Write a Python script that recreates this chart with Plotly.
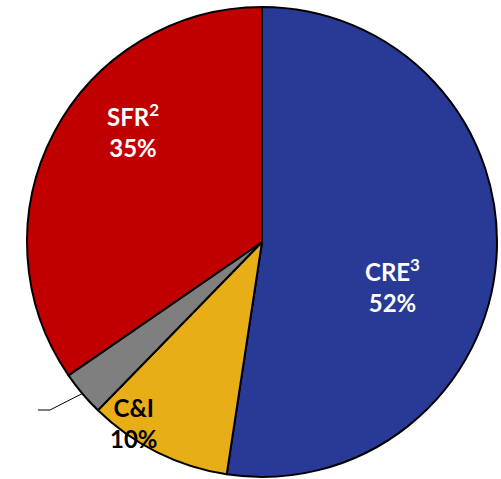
import math
import plotly.graph_objects as go

# Loan mix
labels = ['CRE', 'C&I', 'Other', 'SFR']
notes = ['3', '', '', '2']
values = [52.4, 9.9, 3.1, 34.6]
pct_text = ['52%', '10%', '', '35%']
colors = ['#283a96', '#e8ae17', '#7f7f7f', '#c00000']

W, H = 501, 479
cx, cy, r = 262, 242, 235  # pie centre / radius in pixels

fig = go.Figure(go.Pie(
    labels=labels, values=values,
    sort=False, direction='clockwise', rotation=0,
    marker=dict(colors=colors, line=dict(color='black', width=2)),
    textinfo='none', hoverinfo='label+percent',
    domain=dict(x=[(cx - r) / W, (cx + r) / W], y=[1 - (cy + r) / H, 1 - (cy - r) / H]),
    showlegend=False,
))


def px2paper(x, y):
    return x / W, 1 - y / H


# labels
label_pos = {0: (392, 285), 1: (134, 423), 3: (133, 130)}
font_col = {0: 'white', 1: 'black', 3: 'white'}
for i, (x, y) in label_pos.items():
    px_, py_ = px2paper(x, y)
    name = labels[i]
    if notes[i]:
        name += f'<sup><span style="font-size:17px">{notes[i]}</span></sup>'
    fig.add_annotation(
        x=px_, y=py_, xref='paper', yref='paper', showarrow=False,
        xanchor='center', yanchor='middle',
        text=f'<b>{name}<br>{pct_text[i]}</b>',
        font=dict(family='Lato', size=24, color=font_col[i]),
        align='center',
    )

# leader line for the small grey slice
total = sum(values)
mid = (sum(values[:2]) + values[2] / 2) / total * 2 * math.pi
ex, ey = cx + r * math.sin(mid), cy - r * math.cos(mid)
pts = [px2paper(ex, ey), px2paper(50, 410), px2paper(38, 410)]
path = 'M {} {} L {} {} L {} {}'.format(*[v for p in pts for v in p])
fig.add_shape(type='path', path=path, xref='paper', yref='paper',
              line=dict(color='black', width=1))

fig.update_layout(
    width=W, height=H,
    margin=dict(l=0, r=0, t=0, b=0),
    paper_bgcolor='white', plot_bgcolor='white',
)

fig.write_html('out.html', config={'displayModeBar': False},
               post_script="document.body.style.margin='0';")
